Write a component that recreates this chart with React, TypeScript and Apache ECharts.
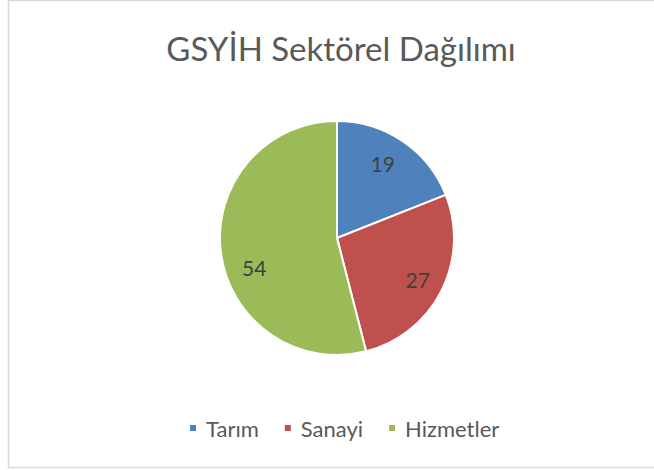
import React, { useEffect, useRef } from "react";
import * as echarts from "echarts";

const titleText = "GSYİH Sektörel Dağılımı";
const categories = ["Tarım", "Sanayi", "Hizmetler"];
const values = [19, 27, 54];
const colors = ["#4F81BD", "#C0504D", "#9BBB59"];

const FONT = "Lato, 'Open Sans', sans-serif";

export default function App() {
  const ref = useRef<HTMLDivElement>(null);
  useEffect(() => {
    if (!ref.current) return;
    const chart = echarts.init(ref.current, undefined, { renderer: "svg" });
    const data = categories.map((name, i) => ({ name, value: values[i] }));
    chart.setOption({
      animation: false,
      color: colors,
      title: {
        text: titleText,
        left: 336,
        textAlign: "center",
        top: 26,
        textStyle: { fontFamily: FONT, fontSize: 33, fontWeight: "normal", color: "#595959" },
      },
      legend: {
        bottom: 26,
        left: 183,
        icon: "rect",
        itemWidth: 8,
        itemHeight: 8,
        itemGap: 24,
        data: categories,
        textStyle: { fontFamily: FONT, fontSize: 22, color: "#595959", padding: [0, 0, 0, 4] },
      },
      graphic: [
        {
          type: "rect",
          shape: { x: 8.5, y: 0.5, width: 700, height: 467 },
          style: { fill: "none", stroke: "#D9D9D9", lineWidth: 1.5 },
          silent: true,
          z: -1,
        },
      ],
      series: [
        {
          type: "pie",
          center: [337, 238],
          radius: [0, 117],
          startAngle: 90,
          clockwise: true,
          data,
          label: { show: false },
          labelLine: { show: false },
          itemStyle: { borderColor: "#FFFFFF", borderWidth: 2 },
          emphasis: { disabled: true },
        },
        {
          type: "pie",
          center: [337, 238],
          radius: [58, 117],
          startAngle: 90,
          clockwise: true,
          silent: true,
          data: data.map((d, i) => ({
            ...d,
            itemStyle: { color: "transparent" },
            label: i === 2 ? { offset: [7, 18] } : i === 0 ? { offset: [-5, 0] } : {},
          })),
          label: {
            show: true,
            position: "inside",
            fontFamily: FONT,
            fontSize: 21,
            color: "#404040",
            formatter: "{c}",
          },
          labelLine: { show: false },
          itemStyle: { borderWidth: 0 },
          emphasis: { disabled: true },
        },
      ],
    });
    return () => chart.dispose();
  }, []);
  return <div ref={ref} style={{ position: "absolute", left: 0, top: 0, width: 654, height: 470 }} />;
}
